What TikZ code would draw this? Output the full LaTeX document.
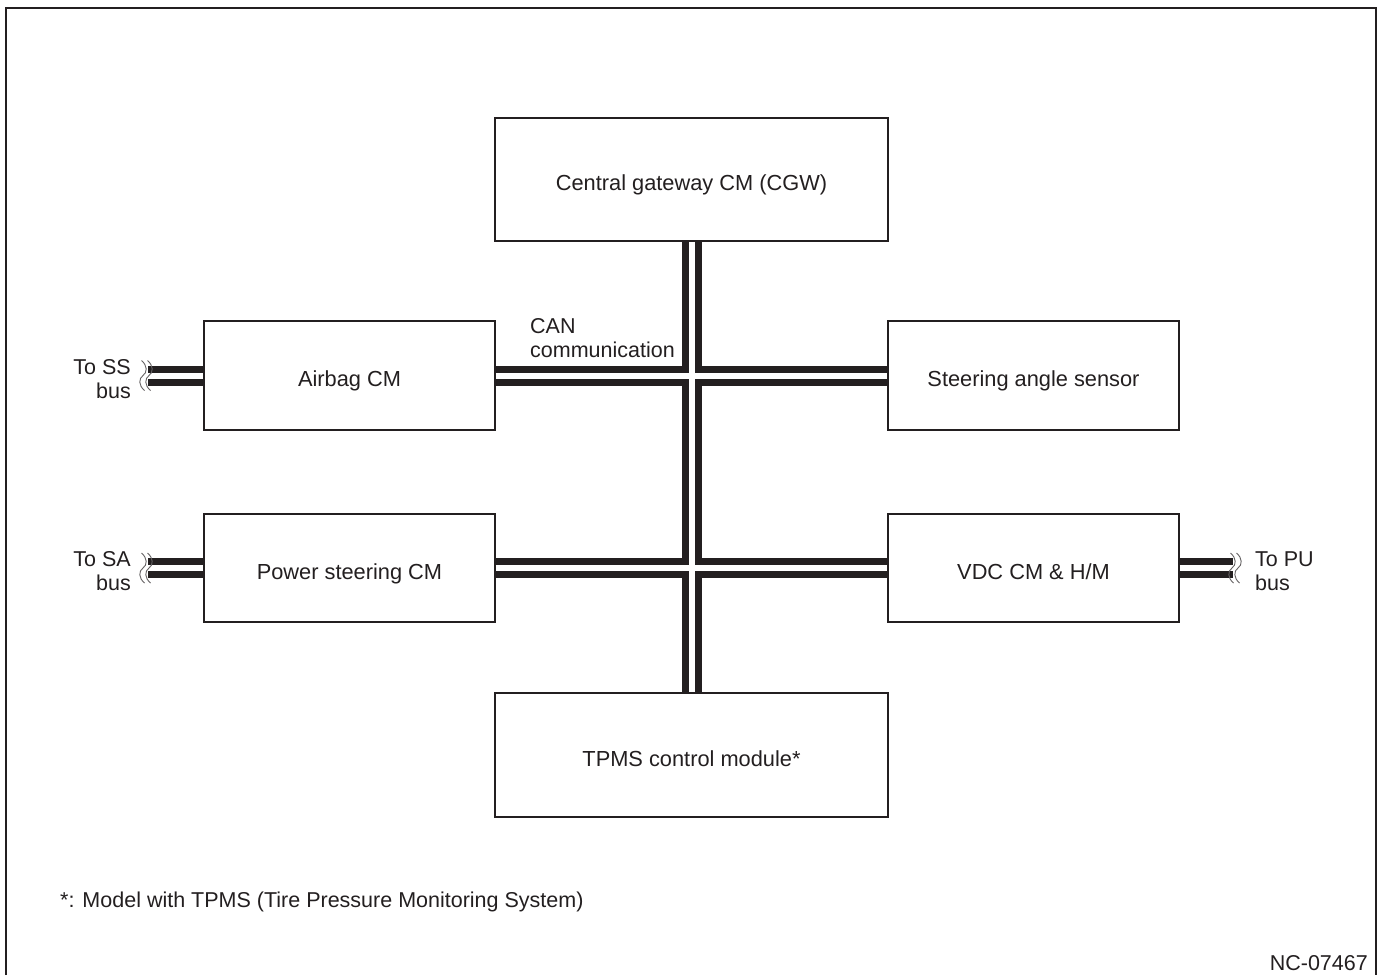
\documentclass[tikz,border=0pt]{standalone}
\usepackage{fontspec}
\setmainfont{Liberation Sans}
\begin{document}
\definecolor{ink}{HTML}{231F20}
\begin{tikzpicture}[x=1pt,y=-1pt,
  modbox/.style={draw=ink,line width=1.6pt,fill=white,inner sep=0pt,
    text height=22.5pt,text depth=0pt,
    text=ink,font=\fontsize{21.8}{24}\selectfont},
  busbase/.style={draw=ink,line width=20pt},
  busgap/.style={draw=white,line width=6pt},
  brk/.style={draw=ink!70,line width=0.9pt},
  lbl/.style={text=ink,font=\fontsize{21.5}{23.5}\selectfont,inner sep=0pt}]
\useasboundingbox (0,0) rectangle (1379,975);
\fill[white] (0,0) rectangle (1379,975);
% outer frame
\draw[ink,line width=1.6pt] (6,975) -- (6,8) -- (1376,8) -- (1376,975);

% control modules
\node[modbox,minimum width=393pt,minimum height=123pt] (cgw)  at (691.5,179.5) {Central gateway CM (CGW)};
\node[modbox,minimum width=291pt,minimum height=109pt] (air)  at (349.5,375.5) {Airbag CM};
\node[modbox,minimum width=291pt,minimum height=109pt] (sas)  at (1033.5,375.5) {Steering angle sensor};
\node[modbox,minimum width=291pt,minimum height=108pt] (ps)   at (349.5,568) {Power steering CM};
\node[modbox,minimum width=291pt,minimum height=108pt] (vdc)  at (1033.5,568) {VDC CM \& H/M};
\node[modbox,minimum width=393pt,minimum height=124pt] (tpms) at (691.5,755) {TPMS control module*};

% cut ends of the external buses
\coordinate (ssend) at (148,375.5);
\coordinate (saend) at (148,568);
\coordinate (puend) at (1233,568);

% CAN bus: black bands first, then the white centre gaps
\foreach \pass in {busbase,busgap}{
  \draw[\pass] (cgw.south) -- (tpms.north);
  \draw[\pass] (air.east) -- (sas.west);
  \draw[\pass] (ps.east) -- (vdc.west);
  \draw[\pass] (ssend) -- (air.west);
  \draw[\pass] (saend) -- (ps.west);
  \draw[\pass] (vdc.east) -- (puend);
}

% break marks at the cut ends
\foreach \cx/\cy in {143/375.5,149/375.5,143/568,149/568,1232/568,1238/568}{
  \draw[brk] (\cx-1.5,\cy-15) .. controls (\cx+4.5,\cy-10) and (\cx+4.5,\cy-3) .. (\cx,\cy)
             .. controls (\cx-4.5,\cy+3) and (\cx-4.5,\cy+10) .. (\cx+1.5,\cy+15);
}

% labels
\node[lbl,anchor=east,align=right] (sslbl) at (131,379) {To SS\\bus};
\node[lbl,anchor=east,align=right] (salbl) at (131,571) {To SA\\bus};
\node[lbl,anchor=west,align=left]  (pulbl) at (1255,571) {To PU\\bus};
\node[lbl,anchor=west,align=left]  (can)   at (530,338) {CAN\\communication};
\node[lbl,anchor=west] (note) at (60,902) {*: Model with TPMS (Tire Pressure Monitoring System)};
\node[lbl,anchor=east] (code) at (1368,963) {NC-07467};
\end{tikzpicture}
\end{document}
